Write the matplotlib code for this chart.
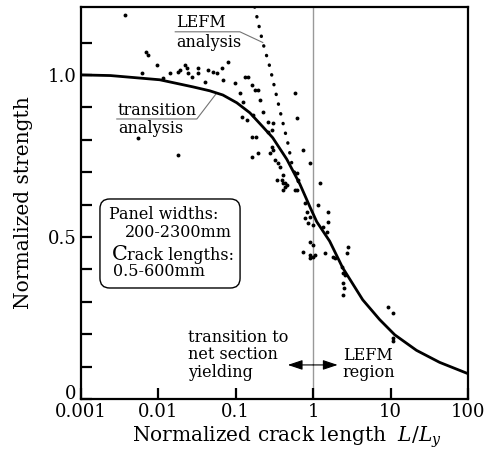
import numpy as np
import matplotlib
matplotlib.use('Agg')
import matplotlib.pyplot as plt
from matplotlib.patches import FancyBboxPatch
from matplotlib.transforms import ScaledTranslation

plt.rcParams['font.family'] = ['DejaVu Serif']
plt.rcParams['mathtext.fontset'] = 'dejavuserif'

# transition analysis (solid curve)
curve_x = [0.001, 0.0024, 0.0104, 0.028, 0.046, 0.068, 0.103, 0.152, 0.223, 0.30,
           0.455, 0.67, 0.902, 1.11, 1.63, 2.40, 4.36, 7.21, 11.3, 21.6, 42.9, 100]
curve_y = [1.0, 0.998, 0.985, 0.963, 0.951, 0.938, 0.914, 0.883, 0.840, 0.806,
           0.740, 0.664, 0.594, 0.547, 0.487, 0.405, 0.306, 0.245, 0.198, 0.150, 0.113, 0.078]

# LEFM analysis (dotted)
lefm_x = [0.175, 0.223, 0.275, 0.37, 0.47, 0.543, 0.67]
lefm_y = [1.21, 1.10, 1.025, 0.892, 0.79, 0.713, 0.66]

# test results
test_x = [0.0037, 0.0061, 0.0069, 0.0073, 0.0096, 0.0114, 0.0141, 0.0179, 0.0189, 0.022,
          0.0233, 0.024, 0.027, 0.0324, 0.0324, 0.0398, 0.0436, 0.0054, 0.0179, 0.0505,
          0.0569, 0.0659, 0.0789, 0.0679, 0.097, 0.131, 0.143, 0.161, 0.176, 0.192,
          0.113, 0.204, 0.123, 0.223, 0.119, 0.139, 0.166, 0.259, 0.300, 0.292,
          0.577, 0.612, 0.161, 0.185, 0.259, 0.292, 0.300, 0.275, 0.161, 0.192,
          0.318, 0.348, 0.370, 0.733, 0.902, 0.393, 0.429, 0.404, 0.455, 0.612,
          0.631, 0.577, 1.21, 0.777, 0.824, 0.777, 0.849, 1.14, 1.54, 1.54,
          1.33, 1.49, 0.902, 0.733, 0.902, 1.045, 1.41, 1.79, 2.33, 2.79,
          2.70, 2.40, 2.40, 0.338, 0.404, 0.404, 0.429, 0.612, 0.902, 0.986,
          0.986, 0.902, 0.986, 1.89, 2.48, 2.55, 2.40, 9.15, 10.6, 10.6, 10.6]
test_y = [1.185, 1.006, 1.071, 1.062, 1.031, 0.991, 1.006, 1.009, 1.015, 1.031,
          1.022, 1.006, 0.994, 1.022, 1.006, 0.978, 1.015, 0.806, 0.753, 1.009,
          1.006, 1.022, 1.040, 0.985, 0.975, 0.994, 0.994, 0.969, 0.954, 0.954,
          0.944, 0.923, 0.917, 0.886, 0.870, 0.861, 0.877, 0.855, 0.852, 0.830,
          0.944, 0.867, 0.809, 0.809, 0.824, 0.778, 0.769, 0.759, 0.747, 0.759,
          0.738, 0.728, 0.716, 0.769, 0.728, 0.676, 0.667, 0.645, 0.660, 0.698,
          0.676, 0.645, 0.667, 0.605, 0.577, 0.559, 0.543, 0.599, 0.577, 0.546,
          0.531, 0.515, 0.485, 0.454, 0.444, 0.444, 0.451, 0.438, 0.407, 0.469,
          0.451, 0.358, 0.321, 0.676, 0.691, 0.667, 0.654, 0.645, 0.562, 0.537,
          0.475, 0.435, 0.438, 0.435, 0.343, 0.383, 0.389, 0.284, 0.265, 0.188, 0.178]

x_ticks = [0.001, 0.01, 0.1, 1, 10, 100]
x_labels = ['0.001', '0.01', '0.1', '1', '10', '100']
y_ticks = [0, 0.1, 0.2, 0.3, 0.4, 0.5, 0.6, 0.7, 0.8, 0.9, 1.0, 1.1]
y_labels = ['0', '', '', '', '', '0.5', '', '', '', '', '1.0', '']

fig = plt.figure(figsize=(4.85, 4.57), dpi=100)
ax = fig.add_axes([0.167, 0.127, 0.798, 0.858])

ax.axvline(1, color='0.6', lw=1.0, zorder=1)
ax.plot(curve_x, curve_y, color='k', lw=2.0, solid_capstyle='round', zorder=3)
ax.plot(lefm_x, lefm_y, color='k', lw=2.4, linestyle=(0, (0.1, 2.9)),
        dash_capstyle='round', zorder=3)
ax.plot(test_x, test_y, 'o', color='k', ms=2.8, mew=0, zorder=4)

ax.set_xscale('log')
ax.set_xlim(0.001, 100)
ax.set_ylim(0, 1.21)
ax.set_xticks(x_ticks)
ax.set_xticklabels(x_labels)
ax.xaxis.set_minor_locator(matplotlib.ticker.NullLocator())
ax.set_yticks(y_ticks)
ax.set_yticklabels(y_labels)
ax.tick_params(direction='in', length=8, width=1.6, labelsize=13)
ax.tick_params(axis='y', pad=3)
ax.tick_params(axis='x', pad=3)
for s in ax.spines.values():
    s.set_linewidth(1.6)

# the "0" label sits a little above the corner
zero = ax.get_yticklabels()[0]
zero.set_transform(zero.get_transform() + ScaledTranslation(0, 5 / 72, fig.dpi_scale_trans))

ax.set_xlabel('Normalized crack length  $L/L_y$', fontsize=14.5)
ax.set_ylabel('Normalized strength', fontsize=14.5)
ax.xaxis.set_label_coords(0.531, -0.066)
ax.yaxis.set_label_coords(-0.125, 0.5)

fs = 11.5
lc = '0.45'
# LEFM analysis label
ax.text(0.0168, 1.162, 'LEFM', fontsize=fs, va='center', ha='left')
ax.text(0.0168, 1.099, 'analysis', fontsize=fs, va='center', ha='left')
ax.plot([0.0165, 0.113, 0.223], [1.133, 1.133, 1.10], color=lc, lw=0.8)

# transition analysis label
ax.text(0.0030, 0.889, 'transition', fontsize=fs, va='center', ha='left')
ax.text(0.0030, 0.836, 'analysis', fontsize=fs, va='center', ha='left')
ax.plot([0.0029, 0.0314, 0.057], [0.864, 0.864, 0.945], color=lc, lw=0.8)

# box with test info
box = FancyBboxPatch((0.049, 0.283), 0.362, 0.227, transform=ax.transAxes,
                     boxstyle='round,pad=0,rounding_size=0.025',
                     fc='white', ec='k', lw=1.0, zorder=5)
ax.add_patch(box)
ax.text(0.00227, 0.568, 'Panel widths:', fontsize=fs, va='center', ha='left', zorder=6)
ax.text(0.0037, 0.515, '200-2300mm', fontsize=fs, va='center', ha='left', zorder=6)
ax.text(0.00251, 0.430, 'C', fontsize=15, va='baseline', ha='left', zorder=6)
ax.text(0.00393, 0.430, 'rack lengths:', fontsize=fs, va='baseline', ha='left', zorder=6)
ax.text(0.00259, 0.392, '0.5-600mm', fontsize=fs, va='center', ha='left', zorder=6)

# region labels and arrows
ax.text(0.024, 0.136, 'transition to\nnet section\nyielding', fontsize=fs,
        va='center', ha='left', linespacing=1.05)
ax.text(2.40, 0.108, 'LEFM\nregion', fontsize=fs, va='center', ha='left', linespacing=1.05)
arrow = dict(arrowstyle='-|>,head_length=0.9,head_width=0.3', color='k', lw=0.8,
             shrinkA=0, shrinkB=0)
ax.annotate('', xy=(0.469, 0.105), xytext=(1, 0.105), arrowprops=arrow)
ax.annotate('', xy=(2.07, 0.105), xytext=(1, 0.105), arrowprops=arrow)

fig.savefig('out.png', dpi=100)
